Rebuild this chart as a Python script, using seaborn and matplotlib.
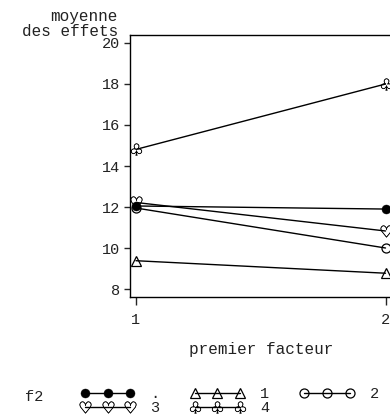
import pandas as pd
import matplotlib
matplotlib.use("Agg")
import matplotlib.pyplot as plt
import seaborn as sns

# valeurs
facteur = [1, 2]
groupes = [".", "3", "1", "4", "2"]
moy_point = [12.05, 11.9]
moy_3 = [12.22, 10.83]
moy_1 = [9.38, 8.77]
moy_4 = [14.81, 18.0]
moy_2 = [11.95, 10.0]

series = {".": moy_point, "3": moy_3, "1": moy_1, "4": moy_4, "2": moy_2}
df = pd.DataFrame(
    [(g, x, y) for g in groupes for x, y in zip(facteur, series[g])],
    columns=["f2", "facteur", "moyenne"],
)

marqueurs = {".": "o", "3": "$\u2661$", "1": "^", "4": "$\u2667$", "2": "o"}
remplis = {".": "black", "3": "black", "1": "none", "4": "black", "2": "none"}
tailles = {".": 6.5, "3": 8.5, "1": 6.5, "4": 8.5, "2": 6.5}

sns.set_style("ticks")
plt.rcParams["font.family"] = ["Liberation Mono", "DejaVu Sans Mono"]
texte = "#222222"

fig = plt.figure(figsize=(3.9, 4.17), dpi=100)
ax = fig.add_axes([130 / 390, 1 - 297 / 417, 262 / 390, 262 / 417])

for g in groupes:
    sns.lineplot(
        data=df[df["f2"] == g], x="facteur", y="moyenne", ax=ax,
        color="black", linewidth=1.0, marker=marqueurs[g],
        markerfacecolor=remplis[g], markeredgecolor="black",
        markeredgewidth=0.9 if remplis[g] == "none" else 0.3,
        markersize=tailles[g], label=g, legend=False,
    )

ax.set_xlim(0.976, 2.026)
ax.set_ylim(7.61, 20.39)
ax.set_xticks(facteur)
ax.set_yticks(range(8, 21, 2))
ax.spines["right"].set_visible(False)
for s in ["left", "top", "bottom"]:
    ax.spines[s].set_linewidth(1.0)
    ax.spines[s].set_color("black")
ax.tick_params(axis="y", length=4, width=1, labelsize=11, labelcolor=texte, pad=3)
ax.tick_params(axis="x", length=5.5, width=1, labelsize=11, labelcolor=texte, pad=6)
ax.set_xlabel("premier facteur", fontsize=11.5, color=texte, labelpad=11)
ax.set_ylabel("")
fig.text(118 / 390, 1 - 24 / 417, "moyenne\ndes effets", ha="right", va="center",
         fontsize=11.5, color=texte, linespacing=0.95, multialignment="right")

handles = ax.get_lines()
leg = fig.legend(handles, groupes, ncol=3, numpoints=3, loc="center left",
                 bbox_to_anchor=(80 / 390, 1 - 401 / 417), frameon=False,
                 fontsize=11, handlelength=3.6, handletextpad=1.0,
                 columnspacing=2.0, labelspacing=0.0, borderpad=0, borderaxespad=0)
for t in leg.get_texts():
    t.set_color(texte)
fig.text(25 / 390, 1 - 397 / 417, "f2", ha="left", va="center", fontsize=11, color=texte)

fig.savefig("out.png", dpi=100)
